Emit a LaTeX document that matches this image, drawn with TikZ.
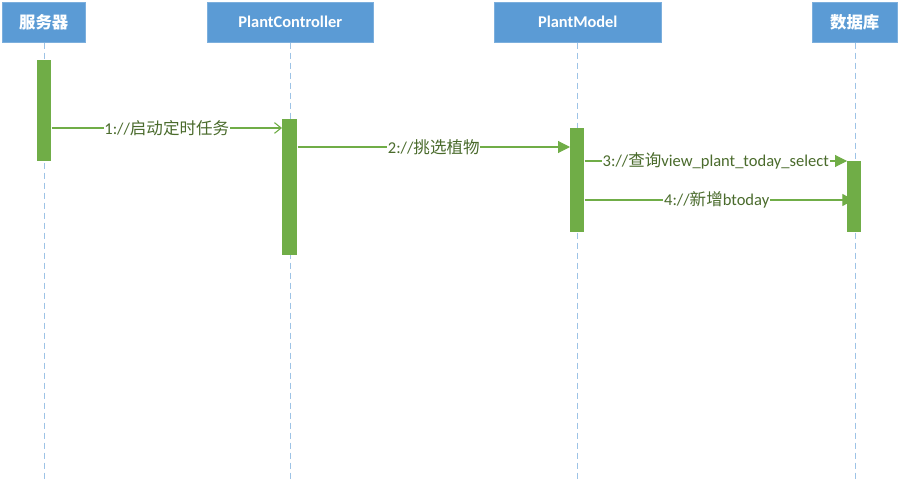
\documentclass[tikz,border=0pt]{standalone}
\usepackage{fontspec}
\setmainfont{Carlito}
\newfontfamily\cjk{Noto Sans CJK SC}
\usetikzlibrary{arrows.meta}
\definecolor{hdr}{HTML}{5B9BD5}
\definecolor{grn}{HTML}{70AD47}
\definecolor{txt}{HTML}{4A6B2C}
\definecolor{life}{HTML}{9DC3E6}
\tikzset{
  header/.style={draw=hdr!80!white, fill=hdr, text=white, font=\bfseries\fontsize{12.3}{14}\selectfont, inner sep=0pt, anchor=north west},
  lifeline/.style={life, dash pattern=on 4.5pt off 3pt, line width=0.6pt},
  act/.style={fill=grn, draw=none, inner sep=0pt, anchor=north west},
  msg/.style={grn, line width=0.8pt},
  lbl/.style={fill=white, text=txt, inner sep=0.5pt, font=\fontsize{12.4}{14}\selectfont}
}
\begin{document}
\begin{tikzpicture}[x=0.75pt,y=-0.75pt]
\useasboundingbox (0,0) rectangle (898,481);
% headers
\node[header, minimum width=83*0.75pt, minimum height=40*0.75pt] (h1) at (2,2) {\cjk\bfseries 服务器};
\node[header, minimum width=166*0.75pt, minimum height=40*0.75pt] (h2) at (207,2) {PlantController};
\node[header, minimum width=167*0.75pt, minimum height=40*0.75pt] (h3) at (494,2) {PlantModel};
\node[header, minimum width=85*0.75pt, minimum height=40*0.75pt] (h4) at (812,2) {\cjk\bfseries 数据库};
% lifelines
\coordinate (e1) at (44,481);
\coordinate (e2) at (290,481);
\coordinate (e3) at (577,481);
\coordinate (e4) at (855,481);
\draw[lifeline] (h1.south -| e1) -- (e1);
\draw[lifeline] (h2.south -| e2) -- (e2);
\draw[lifeline] (h3.south -| e3) -- (e3);
\draw[lifeline] (h4.south -| e4) -- (e4);
% activations
\node[act, minimum width=14*0.75pt, minimum height=101*0.75pt] (a1) at (37,60) {};
\node[act, minimum width=15*0.75pt, minimum height=136*0.75pt] (a2) at (282,119) {};
\node[act, minimum width=14*0.75pt, minimum height=104*0.75pt] (a3) at (570,128) {};
\node[act, minimum width=14*0.75pt, minimum height=71*0.75pt] (a4) at (847,161) {};
% messages
\coordinate (y1) at (0,128);
\coordinate (y2) at (0,147);
\coordinate (y3) at (0,161);
\coordinate (y4) at (0,200);
\draw[msg, -{Straight Barb[length=5pt,width=8pt]}] (a1.east |- y1) -- node[lbl, pos=0.5] {1://{\cjk 启动定时任务}} (a2.west |- y1);
\draw[msg, -{Triangle[length=9pt,width=9pt]}] (a2.east |- y2) -- node[lbl, pos=0.5] {2://{\cjk 挑选植物}} (a3.west |- y2);
\draw[msg, -{Triangle[length=9pt,width=9pt]}] (a3.east |- y3) -- node[lbl, pos=0.5] {3://{\cjk 查询}view\_plant\_today\_select} (a4.west |- y3);
\draw[msg, -{Triangle[length=9pt,width=9pt]}] (a3.east |- y4) -- node[lbl, pos=0.49] {4://{\cjk 新增}btoday} (a4.center |- y4);
\end{tikzpicture}
\end{document}
